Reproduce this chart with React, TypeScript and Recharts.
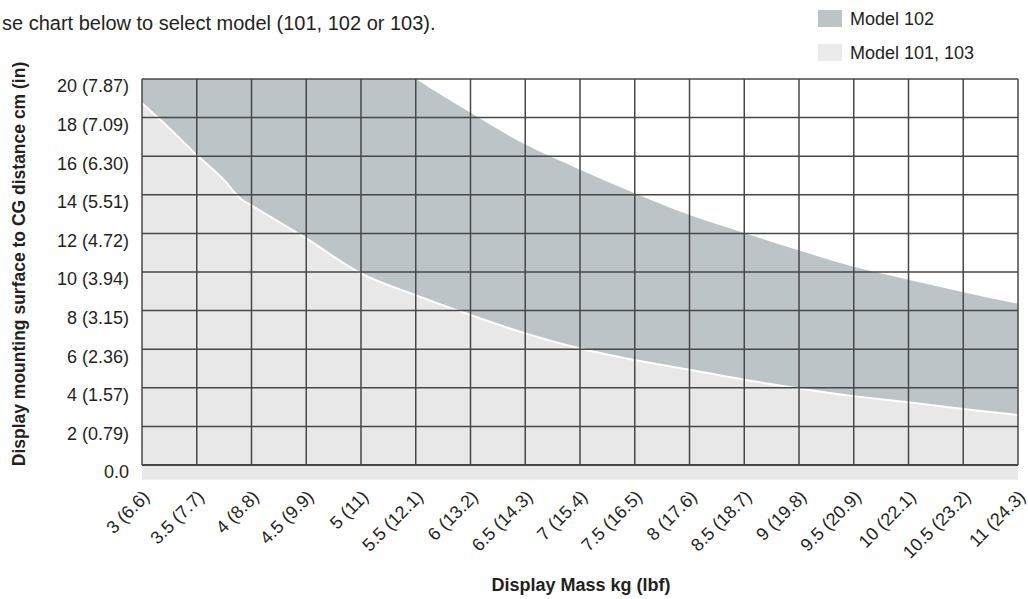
import { AreaChart, Area, XAxis, YAxis, ReferenceLine } from "recharts";

const FONT = "'Liberation Sans', Arial, sans-serif";

// x axis: display mass in kg, with lbf shown in brackets
const massKg = [3, 3.5, 4, 4.5, 5, 5.5, 6, 6.5, 7, 7.5, 8, 8.5, 9, 9.5, 10, 10.5, 11];
const massLbf = ["6.6", "7.7", "8.8", "9.9", "11", "12.1", "13.2", "14.3", "15.4", "16.5", "17.6", "18.7", "19.8", "20.9", "22.1", "23.2", "24.3"];

// y axis: mounting surface to CG distance in cm, inches in brackets
const distCm = [0, 2, 4, 6, 8, 10, 12, 14, 16, 18, 20];
const distLabels = ["0.0", "2 (0.79)", "4 (1.57)", "6 (2.36)", "8 (3.15)", "10 (3.94)", "12 (4.72)", "14 (5.51)", "16 (6.30)", "18 (7.09)", "20 (7.87)"];

// Model 102 limit curve (runs off the top of the chart left of 5.5 kg)
const model102Mass = [3, 3.5, 4, 4.5, 5, 5.5, 6, 6.5, 7, 7.5, 8, 8.5, 9, 9.5, 10, 10.5, 11];
const model102Dist = [33, 30, 27, 24.3, 22, 20, 18.25, 16.6, 15.3, 14.08, 12.95, 12.02, 11.12, 10.27, 9.6, 8.95, 8.35];

// Model 101 / 103 limit curve
const model101Mass = [3, 3.25, 3.5, 3.75, 3.9, 4, 4.5, 5, 5.5, 6, 6.5, 7, 7.5, 8, 8.5, 9, 9.5, 10, 10.5, 11];
const model101Dist = [18.74, 17.45, 16.06, 14.76, 13.8, 13.45, 11.74, 9.93, 8.8, 7.77, 6.82, 6.04, 5.44, 4.94, 4.42, 3.97, 3.57, 3.25, 2.9, 2.59];

const model102 = model102Mass.map((m, i) => ({ mass: m, dist: model102Dist[i] }));
const model101 = model101Mass.map((m, i) => ({ mass: m, dist: model101Dist[i] }));

const DARK = "#bcc4c7";
const LIGHT = "#e8e8e8";
const GRID = "#474747";
const INK = "#231f20";

function YTick(props: any) {
  const { x, y, index } = props;
  return (
    <text x={x} y={y + 7} dy="0.35em" textAnchor="end" fill={INK} fontSize={18} fontFamily={FONT}>
      {distLabels[index]}
    </text>
  );
}

function XTick(props: any) {
  const { x, y, index } = props;
  const ax = x + 4;
  const ay = y + 6;
  return (
    <text
      x={ax}
      y={ay}
      dy="0.35em"
      textAnchor="end"
      transform={`rotate(-45, ${ax}, ${ay})`}
      fill={INK}
      fontSize={18}
      fontFamily={FONT}
    >
      {`${massKg[index]} (${massLbf[index]})`}
    </text>
  );
}

export default function App() {
  return (
    <div style={{ position: "absolute", left: 0, top: 0, width: 1028, height: 599, background: "#fff", overflow: "hidden", fontFamily: FONT, color: INK }}>
      <div style={{ position: "absolute", left: 2, top: 13, fontSize: 20, lineHeight: "20px", whiteSpace: "nowrap" }}>
        se chart below to select model (101, 102 or 103).
      </div>

      <div style={{ position: "absolute", left: 818, top: 10, width: 24, height: 17, background: DARK }} />
      <div style={{ position: "absolute", left: 850, top: 8.5, fontSize: 18, lineHeight: "20px", whiteSpace: "nowrap" }}>Model 102</div>
      <div style={{ position: "absolute", left: 818, top: 44, width: 24, height: 17, background: "#ebebeb" }} />
      <div style={{ position: "absolute", left: 850, top: 42.5, fontSize: 18, lineHeight: "20px", whiteSpace: "nowrap" }}>Model 101, 103</div>

      <AreaChart width={1028} height={599} margin={{ top: 79, right: 10, bottom: 0, left: 0 }}>
        <XAxis
          dataKey="mass"
          type="number"
          domain={[3, 11]}
          ticks={massKg}
          axisLine={false}
          tickLine={false}
          height={119.5}
          tick={<XTick />}
          interval={0}
          allowDuplicatedCategory={false}
        />
        <YAxis
          type="number"
          domain={[-0.75, 20]}
          ticks={distCm}
          allowDataOverflow
          axisLine={false}
          tickLine={false}
          width={142}
          tickMargin={7}
          tick={<YTick />}
          interval={0}
        />
        <Area
          data={model102}
          dataKey="dist"
          type="monotone"
          baseValue="dataMin"
          fill={DARK}
          fillOpacity={1}
          stroke="none"
          isAnimationActive={false}
        />
        <Area
          data={model101}
          dataKey="dist"
          type="monotone"
          baseValue="dataMin"
          fill={LIGHT}
          fillOpacity={1}
          stroke="#ffffff"
          strokeWidth={2}
          isAnimationActive={false}
        />
        {distCm.map((v) => (
          <ReferenceLine key={`h${v}`} y={v} stroke={GRID} strokeWidth={v === 0 ? 2 : 1.5} />
        ))}
        {massKg.map((m) => (
          <ReferenceLine key={`v${m}`} segment={[{ x: m, y: 0 }, { x: m, y: 20 }]} stroke={GRID} strokeWidth={1.5} />
        ))}
      </AreaChart>

      <div style={{ position: "absolute", left: 581, top: 585, transform: "translate(-50%, -50%)", fontSize: 18, fontWeight: 700, whiteSpace: "nowrap" }}>
        Display Mass kg (lbf)
      </div>
      <div style={{ position: "absolute", left: 19, top: 263.5, transform: "translate(-50%, -50%) rotate(-90deg)", fontSize: 17.5, fontWeight: 700, whiteSpace: "nowrap" }}>
        Display mounting surface to CG distance cm (in)
      </div>
    </div>
  );
}
